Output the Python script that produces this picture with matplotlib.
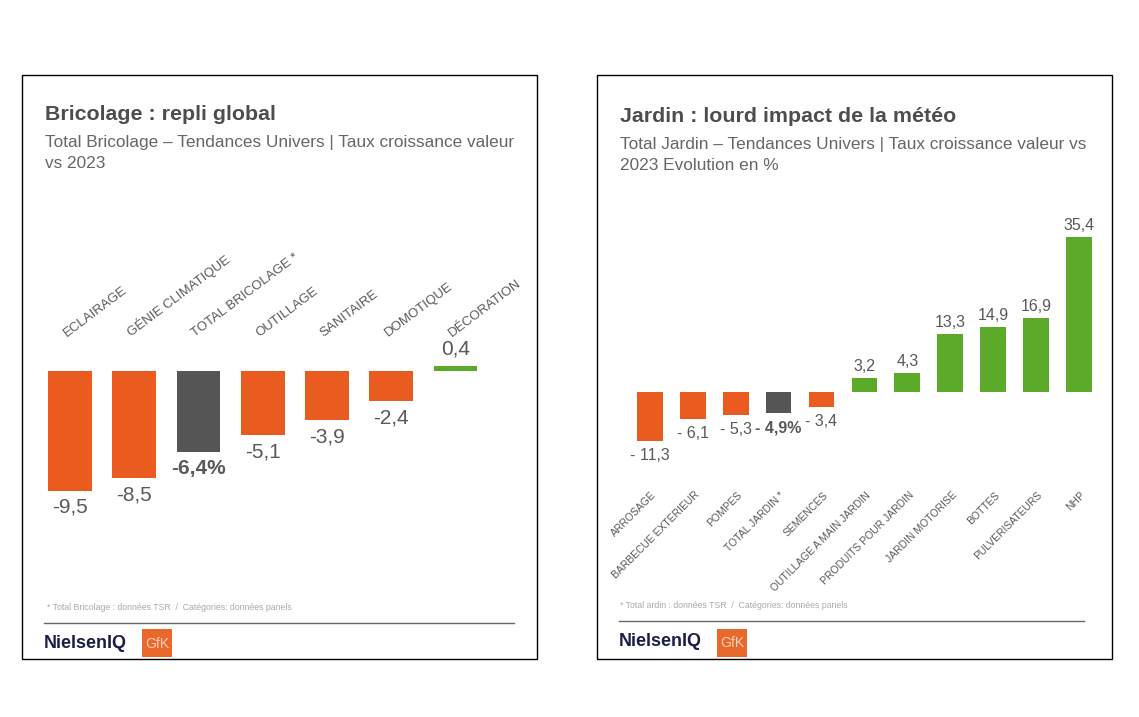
import matplotlib.pyplot as plt
from matplotlib.patches import Rectangle

plt.rcParams['font.family'] = ['Liberation Sans', 'DejaVu Sans']

W, H = 1139, 717

# data
bric_cats = ["ECLAIRAGE", "GÉNIE CLIMATIQUE", "TOTAL BRICOLAGE *", "OUTILLAGE",
             "SANITAIRE", "DOMOTIQUE", "DÉCORATION"]
bric_vals = [-9.5, -8.5, -6.4, -5.1, -3.9, -2.4, 0.4]
bric_labels = ["-9,5", "-8,5", "-6,4%", "-5,1", "-3,9", "-2,4", "0,4"]

jard_cats = ["ARROSAGE", "BARBECUE EXTERIEUR", "POMPES", "TOTAL JARDIN *", "SEMENCES",
             "OUTILLAGE A MAIN JARDIN", "PRODUITS POUR JARDIN", "JARDIN MOTORISE",
             "BOTTES", "PULVERISATEURS", "NHP"]
jard_vals = [-11.3, -6.1, -5.3, -4.9, -3.4, 3.2, 4.3, 13.3, 14.9, 16.9, 35.4]
jard_labels = ["- 11,3", "- 6,1", "- 5,3", "- 4,9%", "- 3,4", "3,2", "4,3",
               "13,3", "14,9", "16,9", "35,4"]

ORANGE = "#E95B1F"
GREEN = "#5BAA2A"
DARK = "#555555"
TXT = "#595959"


def colors_for(vals, total_idx):
    out = []
    for i, v in enumerate(vals):
        if i == total_idx:
            out.append(DARK)
        elif v < 0:
            out.append(ORANGE)
        else:
            out.append(GREEN)
    return out


def px_axes(fig, x0, y0, x1, y1):
    return fig.add_axes([x0 / W, 1 - y1 / H, (x1 - x0) / W, (y1 - y0) / H])


fig = plt.figure(figsize=(W / 100, H / 100), dpi=100)
bg = fig.add_axes([0, 0, 1, 1])
bg.set_xlim(0, W)
bg.set_ylim(H, 0)
bg.axis("off")

# panel frames
for x0, x1 in [(22, 537), (597, 1112)]:
    bg.add_patch(Rectangle((x0, 75), x1 - x0, 584, fill=False, ec="black", lw=1))

# titles
bg.text(45, 115, "Bricolage : repli global", fontsize=15.4, fontweight="bold",
        color="#4d4d4d", va="center")
bg.text(45, 142, "Total Bricolage – Tendances Univers | Taux croissance valeur",
        fontsize=12.4, color="#666666", va="center")
bg.text(45, 164, "vs 2023", fontsize=12.4, color="#666666", va="center")

bg.text(620, 117, "Jardin : lourd impact de la météo", fontsize=15.4, fontweight="bold",
        color="#4d4d4d", va="center")
bg.text(620, 145, "Total Jardin – Tendances Univers | Taux croissance valeur vs",
        fontsize=12.4, color="#666666", va="center")
bg.text(620, 166, "2023 Evolution en %", fontsize=12.4, color="#666666", va="center")

# footers
bg.text(47, 607, "* Total Bricolage : données TSR  /  Catégories: données panels",
        fontsize=6.3, color="#aaaaaa", va="center")
bg.text(620, 605, "* Total ardin : données TSR  /  Catégories: données panels",
        fontsize=6.3, color="#aaaaaa", va="center")
bg.plot([44, 514], [623, 623], color="#666666", lw=1)
bg.plot([619, 1084], [621, 621], color="#666666", lw=1)
for x0, y in [(44, 643), (619, 642)]:
    bg.text(x0, y, "NielsenIQ", fontsize=13, fontweight="bold", color="#1c1c4a",
            va="center")
    bg.add_patch(Rectangle((x0 + 98, 629), 30, 28, color="#E9692C", lw=0))
    bg.text(x0 + 113, y + 1, "GfK", fontsize=10, color="#FAD0B8", ha="center",
            va="center")

# left chart
ax1 = px_axes(fig, 21.8, 250, 503.7, 530)
ax1.set_xlim(-0.75, 6.75)
ax1.set_ylim(-12.62, 9.6)
ax1.axis("off")
x1 = range(len(bric_vals))
ax1.bar(x1, bric_vals, width=0.68, color=colors_for(bric_vals, 2))
for i, (v, lab, cat) in enumerate(zip(bric_vals, bric_labels, bric_cats)):
    bold = "bold" if i == 2 else "normal"
    if v < 0:
        ax1.annotate(lab, (i, v), xytext=(0, -5), textcoords="offset points",
                     ha="center", va="top", fontsize=15, color=TXT, fontweight=bold)
    else:
        ax1.annotate(lab, (i, v), xytext=(0, 5), textcoords="offset points",
                     ha="center", va="bottom", fontsize=15, color=TXT, fontweight=bold)
    ax1.text(i - 0.05, 2.7, cat, rotation=37, rotation_mode="anchor", ha="left",
             va="baseline", fontsize=9.5, color=TXT)

# right chart
ax2 = px_axes(fig, 617.8, 200, 1111, 470)
ax2.set_xlim(-0.75, 10.75)
ax2.set_ylim(-17.85, 43.9)
ax2.axis("off")
x2 = range(len(jard_vals))
ax2.bar(x2, jard_vals, width=0.6, color=colors_for(jard_vals, 3))
for i, (v, lab, cat) in enumerate(zip(jard_vals, jard_labels, jard_cats)):
    bold = "bold" if i == 3 else "normal"
    if v < 0:
        ax2.annotate(lab, (i, v), xytext=(0, -5), textcoords="offset points",
                     ha="center", va="top", fontsize=11.5, color=TXT, fontweight=bold)
    else:
        ax2.annotate(lab, (i, v), xytext=(0, 3), textcoords="offset points",
                     ha="center", va="bottom", fontsize=11.5, color=TXT, fontweight=bold)
    ax2.text(i + 0.03, -22.4, cat, rotation=45, rotation_mode="anchor", ha="right",
             va="top", fontsize=7.5, color=TXT)

fig.savefig("out.png", dpi=100)
